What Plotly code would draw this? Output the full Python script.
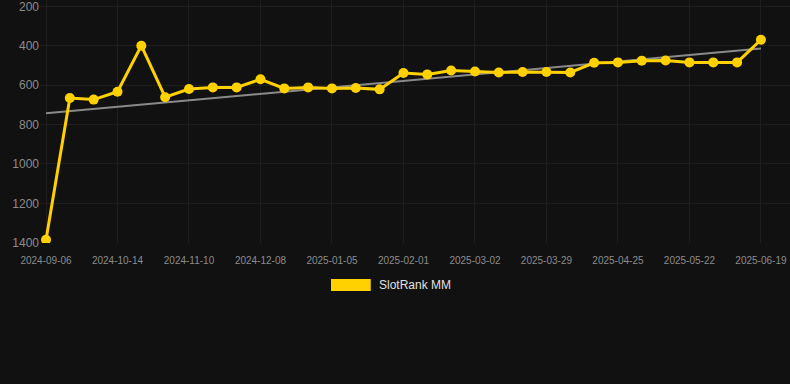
import numpy as np
import plotly.graph_objects as go

dates = [
    "2024-09-06", "2024-09-19", "2024-10-01", "2024-10-14", "2024-10-23",
    "2024-11-01", "2024-11-10", "2024-11-19", "2024-11-28", "2024-12-08",
    "2024-12-17", "2024-12-26", "2025-01-05", "2025-01-14", "2025-01-23",
    "2025-02-01", "2025-02-11", "2025-02-20", "2025-03-02", "2025-03-11",
    "2025-03-20", "2025-03-29", "2025-04-07", "2025-04-16", "2025-04-25",
    "2025-05-04", "2025-05-13", "2025-05-22", "2025-05-31", "2025-06-09",
    "2025-06-19",
]
ranks = [
    1385, 665, 673, 633, 399, 661, 619, 611, 611, 570,
    616, 611, 616, 614, 621, 538, 545, 525, 530, 535,
    533, 533, 535, 486, 484, 475, 474, 484, 484, 484,
    369,
]
tick_labels = dates[::3]
y_ticks = [200, 400, 600, 800, 1000, 1200, 1400]
series_name = "SlotRank MM"

idx = np.arange(len(ranks))
slope, intercept = np.polyfit(idx, ranks, 1)
trend = slope * idx + intercept

fig = go.Figure()
fig.add_trace(go.Scatter(
    x=dates, y=trend, mode="lines",
    line=dict(color="#8a8a8a", width=2),
    hoverinfo="skip", showlegend=False,
))
fig.add_trace(go.Scatter(
    x=dates, y=ranks, mode="lines+markers", name=series_name,
    line=dict(color="#FFD100", width=3),
    marker=dict(color="#FFD100", size=10),
    showlegend=False,
))

# custom legend (wide swatch + label)
fig.add_shape(type="rect", xref="paper", yref="paper",
              x0=0.388, x1=0.441, y0=-0.198, y1=-0.148,
              fillcolor="#FFD100", line=dict(width=0))
fig.add_annotation(xref="paper", yref="paper", x=0.449, y=-0.173,
                   text=series_name, showarrow=False,
                   xanchor="left", yanchor="middle",
                   font=dict(size=12, color="#e0e0e0"))

fig.update_layout(
    width=790, height=384,
    paper_bgcolor="#111111", plot_bgcolor="#111111",
    margin=dict(l=40, r=0, t=0, b=141),
    font=dict(family="Liberation Sans, Arial, sans-serif", color="#8c8c8c"),
    xaxis=dict(
        type="category",
        tickmode="array", tickvals=tick_labels, ticktext=tick_labels,
        tickfont=dict(size=10, color="#8c8c8c"),
        showgrid=True, gridcolor="#1e1e1e", gridwidth=1,
        zeroline=False, showline=False,
        ticks="outside", ticklen=8, tickcolor="rgba(0,0,0,0)",
        range=[-0.252, 31.22],
        ticklabeloverflow="allow",
    ),
    yaxis=dict(
        autorange=False, range=[1401.5, 167],
        tickvals=y_ticks,
        tickfont=dict(size=12, color="#8c8c8c"),
        showgrid=True, gridcolor="#1e1e1e", gridwidth=1,
        zeroline=False, showline=False, ticks="",
        ticklabeloverflow="allow",
    ),
    hovermode="x",
)

fig.write_html("out.html", config={"displayModeBar": False},
               post_script="document.body.style.margin='0';")
